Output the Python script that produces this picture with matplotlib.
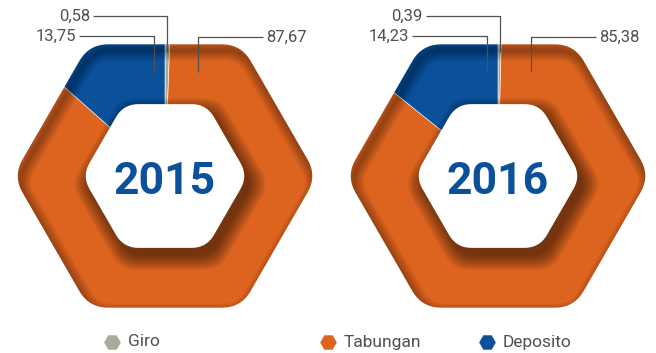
import numpy as np
import matplotlib
matplotlib.use("Agg")
import matplotlib.pyplot as plt
from matplotlib.path import Path
from matplotlib.patches import PathPatch

# --- data ---
years = ['2015', '2016']
categories = ['Giro', 'Tabungan', 'Deposito']
giro = [0.58, 0.39]
tabungan = [87.67, 85.38]
deposito = [13.75, 14.23]

colors = {'Giro': '#aba999', 'Tabungan': '#dd641f', 'Deposito': '#0a509b'}
text_grey = '#505050'

W, H = 656, 353
plt.rcParams['font.family'] = ['Roboto', 'DejaVu Sans']

fig = plt.figure(figsize=(W / 100, H / 100), dpi=100)
ax = fig.add_axes([0, 0, 1, 1])


def Y(y):
    # pixel rows counted from the top
    return H - y


def hex_path(cx, cy, R, d, steps=10):
    # flat-top hexagon, corners rounded with short polyline arcs
    ang = np.radians(np.arange(0, 360, 60))
    pts = np.column_stack([cx + R * np.cos(ang), cy + R * np.sin(ang)])
    verts = []
    n = len(pts)
    t = np.linspace(0, 1, steps)[:, None]
    for i in range(n):
        p = pts[i]
        prv = pts[i - 1]
        nxt = pts[(i + 1) % n]
        a = p + (prv - p) / np.linalg.norm(prv - p) * d
        b = p + (nxt - p) / np.linalg.norm(nxt - p) * d
        curve = (1 - t) ** 2 * a + 2 * (1 - t) * t * p + t ** 2 * b
        verts.extend(curve)
    verts.append(verts[0])
    return Path(np.array(verts), closed=True)


def fmt(v):
    return f"{v:.2f}".replace('.', ',')


centers = [(165, 176), (498, 176)]
R_out, R_in = 152, 83
d_out, d_in = 19, 15

for i, year in enumerate(years):
    cx, cy = centers[i][0], Y(centers[i][1])
    vals = [giro[i], tabungan[i], deposito[i]]

    outer = PathPatch(hex_path(cx, cy, R_out, d_out), facecolor='none',
                      edgecolor='none')
    ax.add_patch(outer)

    wedges, _ = ax.pie(vals, colors=[colors[c] for c in categories],
                       startangle=90, counterclock=False,
                       radius=230, center=(cx, cy),
                       wedgeprops=dict(edgecolor='white', linewidth=0.4))
    for w in wedges:
        w.set_zorder(1)
        w.set_clip_on(True)   # pie turns clipping off by default
        w.set_clip_path(outer)

    # inner shadow along the outer edge, heavier at the top-left
    for k in range(10):
        rim = PathPatch(hex_path(cx + 3, cy - 6, R_out, d_out),
                        facecolor='none', edgecolor='black',
                        linewidth=(k + 1) * 1.5, alpha=0.035, zorder=2)
        ax.add_patch(rim)
        rim.set_clip_path(outer)

    # soft shadow under the inner hexagon
    for k in range(10):
        sh = PathPatch(hex_path(cx + 5, cy - 8, R_in + 1.8 * k, d_in),
                       facecolor='black', edgecolor='none', alpha=0.06,
                       zorder=3)
        ax.add_patch(sh)
        sh.set_clip_path(outer)

    ax.add_patch(PathPatch(hex_path(cx, cy, R_in, d_in), facecolor='white',
                           edgecolor='none', zorder=4))

    ax.text(cx, cy - 6, year, ha='center', va='center', fontsize=32,
            fontweight='bold', color='#0a509b', zorder=5)

    # leader lines and value labels
    total = sum(vals)
    mid_giro = np.radians(vals[0] / total * 360 / 2)
    x_giro = cx + 124 * np.sin(mid_giro)
    lw = 0.9
    ax.plot([cx - 72, x_giro, x_giro], [Y(16), Y(16), Y(52)],
            color=text_grey, lw=lw, zorder=5, solid_capstyle='butt')
    ax.text(cx - 75, Y(16), fmt(giro[i]), ha='right', va='center',
            fontsize=12, color=text_grey)

    ax.plot([cx - 86, cx - 11, cx - 11], [Y(36), Y(36), Y(72)],
            color=text_grey, lw=lw, zorder=5, solid_capstyle='butt')
    ax.text(cx - 89, Y(36), fmt(deposito[i]), ha='right', va='center',
            fontsize=12, color=text_grey)

    ax.plot([cx + 98, cx + 33, cx + 33], [Y(37), Y(37), Y(72)],
            color=text_grey, lw=lw, zorder=5, solid_capstyle='butt')
    ax.text(cx + 101, Y(37), fmt(tabungan[i]), ha='left', va='center',
            fontsize=12, color=text_grey)

# legend
leg_x = [112, 328, 487]
for c, x in zip(categories, leg_x):
    ax.plot(x, Y(342), marker='H', ms=12, color=colors[c], mec='none')
    ax.text(x + 16, Y(342), c, ha='left', va='center', fontsize=12.5,
            color=text_grey)

ax.set_aspect('equal')
ax.set_xlim(0, W)
ax.set_ylim(0, H)
ax.axis('off')

fig.savefig('out.png', dpi=100, facecolor='white')
